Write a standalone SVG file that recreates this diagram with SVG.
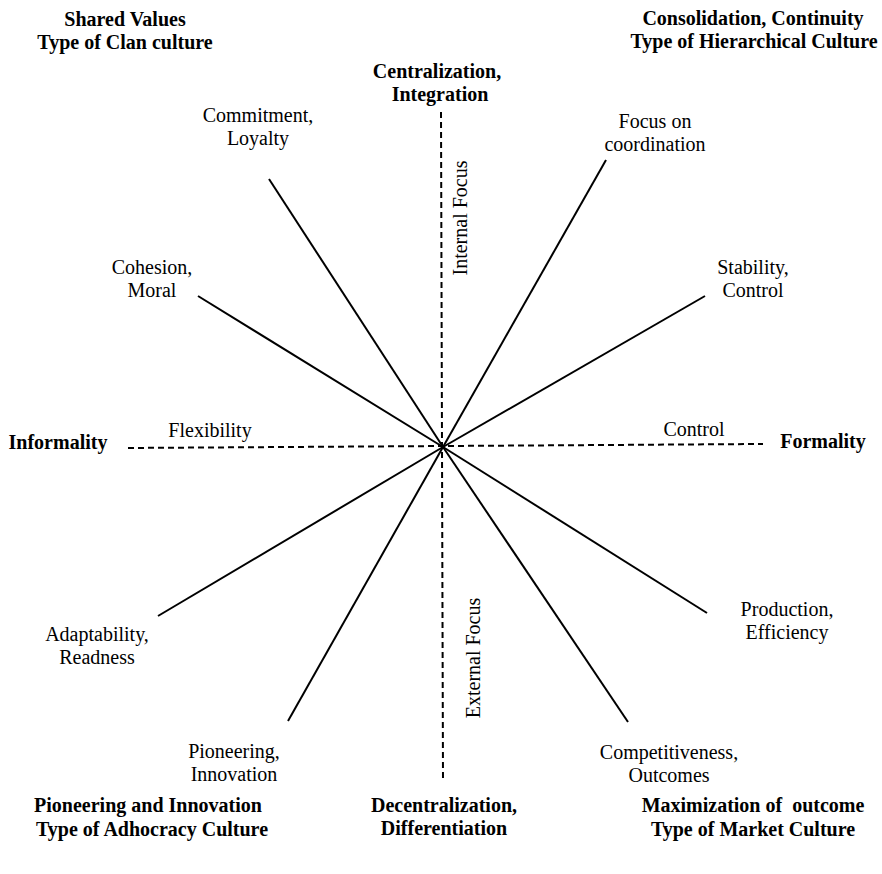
<svg xmlns="http://www.w3.org/2000/svg" width="882" height="874" viewBox="0 0 882 874">
<style>
text{font-family:'Liberation Serif',Tinos,'Times New Roman',Times,serif;font-size:20px;fill:#000;text-anchor:middle}
.b{font-weight:bold}
.ray{stroke:#000;stroke-width:2;fill:none}
.axis{stroke:#000;stroke-width:2;stroke-dasharray:6 4;fill:none}
</style>
<rect width="882" height="874" fill="#fff"/>
<g id="connectors">
<line class="axis" x1="441" y1="112" x2="443" y2="782"/>
<line class="axis" x1="128" y1="448" x2="763" y2="444"/>
<line class="ray" x1="443" y1="447" x2="269" y2="179"/>
<line class="ray" x1="443" y1="447" x2="198" y2="296"/>
<line class="ray" x1="443" y1="447" x2="606" y2="160"/>
<line class="ray" x1="443" y1="447" x2="705" y2="296"/>
<line class="ray" x1="443" y1="447" x2="158" y2="616"/>
<line class="ray" x1="443" y1="447" x2="288" y2="721"/>
<line class="ray" x1="443" y1="447" x2="628" y2="722"/>
<line class="ray" x1="443" y1="447" x2="707" y2="613"/>
</g>
<g font-family="Liberation Serif, serif">
<g id="clan"><text class="b" x="125" y="26">Shared Values</text><text class="b" x="125" y="49">Type of Clan culture</text></g>
<g id="hierarchy"><text class="b" x="753" y="25">Consolidation, Continuity</text><text class="b" x="754" y="48">Type of Hierarchical Culture</text></g>
<g id="centralization"><text class="b" x="437" y="78">Centralization,</text><text class="b" x="440" y="101">Integration</text></g>
<g id="commitment"><text x="258" y="122">Commitment,</text><text x="258" y="145">Loyalty</text></g>
<g id="focus"><text x="655" y="128">Focus on</text><text x="655" y="151">coordination</text></g>
<g id="internal"><text transform="translate(467,218) rotate(-90)">Internal Focus</text></g>
<g id="cohesion"><text x="152" y="274">Cohesion,</text><text x="152" y="297">Moral</text></g>
<g id="stability"><text x="753" y="274">Stability,</text><text x="753" y="297">Control</text></g>
<g id="informality"><text class="b" x="58" y="449">Informality</text></g>
<g id="flexibility"><text x="210" y="437">Flexibility</text></g>
<g id="control"><text x="694" y="436">Control</text></g>
<g id="formality"><text class="b" x="823" y="448">Formality</text></g>
<g id="production"><text x="787" y="616">Production,</text><text x="787" y="639">Efficiency</text></g>
<g id="adaptability"><text x="97" y="641">Adaptability,</text><text x="97" y="664">Readness</text></g>
<g id="external"><text transform="translate(480,658) rotate(-90)">External Focus</text></g>
<g id="pioneering"><text x="234" y="758">Pioneering,</text><text x="234" y="781">Innovation</text></g>
<g id="competitiveness"><text x="669" y="759">Competitiveness,</text><text x="669" y="782">Outcomes</text></g>
<g id="decentralization"><text class="b" x="444" y="812">Decentralization,</text><text class="b" x="444" y="835">Differentiation</text></g>
<g id="adhocracy"><text class="b" x="148" y="812">Pioneering and Innovation</text><text class="b" x="152" y="836">Type of Adhocracy Culture</text></g>
<g id="market"><text class="b" x="753" y="812" xml:space="preserve">Maximization of  outcome</text><text class="b" x="753" y="836">Type of Market Culture</text></g>
</g>
</svg>
